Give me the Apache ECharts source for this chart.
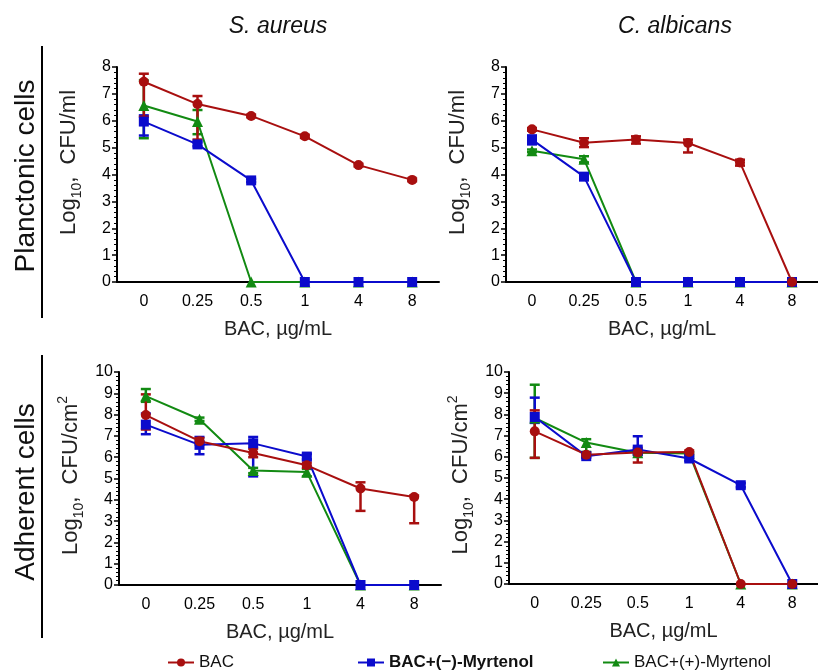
<!DOCTYPE html>
<html><head><meta charset="utf-8">
<script src="https://cdn.jsdelivr.net/npm/echarts@6/dist/echarts.min.js"></script>
<style>html,body{margin:0;padding:0;background:#fff}#c{width:818px;height:671px}</style>
</head><body><div id="c"></div>
<script>
const categories = ['0', '0.25', '0.5', '1', '4', '8'];
const seriesNames = ['BAC', 'BAC+(−)-Myrtenol', 'BAC+(+)-Myrtenol'];
const panelTitles = ['S. aureus', 'C. albicans'];
const rowTitles = ['Planctonic cells', 'Adherent cells'];
const xAxisName = 'BAC, µg/mL';

// Planktonic, S. aureus
const saP_BAC = [7.45, 6.62, 6.18, 5.42, 4.35, 3.80];
const saP_BAC_lo = [6.15, 5.30, 6.13, 5.36, 4.30, 3.75];
const saP_BAC_hi = [7.75, 6.92, 6.23, 5.48, 4.40, 3.85];
const saP_Minus = [5.97, 5.12, 3.78, 0, 0, 0];
const saP_Minus_lo = [5.45, 5.05, 3.72, 0, 0, 0];
const saP_Minus_hi = [6.20, 5.20, 3.84, 0, 0, 0];
const saP_Plus = [6.57, 5.97, 0, 0, 0, 0];
const saP_Plus_lo = [5.35, 5.50, 0, 0, 0, 0];
const saP_Plus_hi = [7.50, 6.40, 0, 0, 0, 0];

// Planktonic, C. albicans
const caP_BAC = [5.68, 5.18, 5.30, 5.17, 4.45, 0];
const caP_BAC_lo = [5.63, 5.02, 5.15, 4.82, 4.33, 0];
const caP_BAC_hi = [5.73, 5.35, 5.42, 5.30, 4.55, 0];
const caP_Minus = [5.30, 3.92, 0, 0, 0, 0];
const caP_Minus_lo = [5.12, 3.84, 0, 0, 0, 0];
const caP_Minus_hi = [5.45, 4.00, 0, 0, 0, 0];
const caP_Plus = [4.88, 4.57, 0, 0, 0, 0];
const caP_Plus_lo = [4.83, 4.45, 0, 0, 0, 0];
const caP_Plus_hi = [4.93, 4.68, 0, 0, 0, 0];

// Adherent, S. aureus
const saA_BAC = [7.98, 6.75, 6.20, 5.62, 4.53, 4.13];
const saA_BAC_lo = [7.30, 6.60, 6.00, 5.50, 3.48, 2.90];
const saA_BAC_hi = [8.95, 6.90, 6.40, 5.75, 4.82, 4.20];
const saA_Minus = [7.53, 6.58, 6.65, 6.03, 0, 0];
const saA_Minus_lo = [7.08, 6.14, 5.10, 5.90, 0, 0];
const saA_Minus_hi = [8.05, 6.95, 6.95, 6.15, 0, 0];
const saA_Plus = [8.87, 7.78, 5.38, 5.30, 0, 0];
const saA_Plus_lo = [8.60, 7.70, 5.25, 5.10, 0, 0];
const saA_Plus_hi = [9.20, 7.86, 5.50, 5.45, 0, 0];

// Adherent, C. albicans
const caA_BAC = [7.20, 6.10, 6.20, 6.23, 0, 0];
const caA_BAC_lo = [5.95, 6.00, 5.73, 6.15, 0, 0];
const caA_BAC_hi = [8.19, 6.20, 6.42, 6.30, 0, 0];
const caA_Minus = [7.88, 6.03, 6.34, 5.92, 4.66, 0];
const caA_Minus_lo = [7.60, 5.95, 6.08, 5.82, 4.56, 0];
const caA_Minus_hi = [8.79, 6.10, 6.97, 6.00, 4.76, 0];
const caA_Plus = [7.83, 6.67, 6.19, 6.15, 0, 0];
const caA_Plus_lo = [5.95, 6.23, 6.10, 6.08, 0, 0];
const caA_Plus_hi = [9.40, 6.83, 6.30, 6.22, 0, 0];

const yMaxTop = 8, yMaxBottom = 10, yInterval = 1;

const colors = ['#A80F0F', '#0B0BCC', '#128A12'];
const symbols = ['circle', 'rect', 'triangle'];
const symbolSizes = [10, 10, 11];
const FONT = '"Liberation Sans", Arial, sans-serif';

const panels = [
  {grid: {left: 117, top: 67, width: 322, height: 215}, max: yMaxTop, sup: false, namePad: 24,
   means: [saP_BAC, saP_Minus, saP_Plus], lo: [saP_BAC_lo, saP_Minus_lo, saP_Plus_lo], hi: [saP_BAC_hi, saP_Minus_hi, saP_Plus_hi]},
  {grid: {left: 506, top: 67, width: 323, height: 215}, max: yMaxTop, sup: false, namePad: 24,
   means: [caP_BAC, caP_Minus, caP_Plus], lo: [caP_BAC_lo, caP_Minus_lo, caP_Plus_lo], hi: [caP_BAC_hi, caP_Minus_hi, caP_Plus_hi]},
  {grid: {left: 119, top: 372, width: 322, height: 213}, max: yMaxBottom, sup: true, namePad: 6,
   means: [saA_BAC, saA_Minus, saA_Plus], lo: [saA_BAC_lo, saA_Minus_lo, saA_Plus_lo], hi: [saA_BAC_hi, saA_Minus_hi, saA_Plus_hi]},
  {grid: {left: 509, top: 372, width: 322, height: 212}, max: yMaxBottom, sup: true, namePad: 6,
   means: [caA_BAC, caA_Minus, caA_Plus], lo: [caA_BAC_lo, caA_Minus_lo, caA_Plus_lo], hi: [caA_BAC_hi, caA_Minus_hi, caA_Plus_hi]}
];

const grids = [], xAxes = [], yAxes = [], series = [];
panels.forEach((p, i) => {
  grids.push(Object.assign({containLabel: false}, p.grid));
  xAxes.push({
    type: 'category', gridIndex: i, data: categories, boundaryGap: true,
    axisLine: {lineStyle: {color: '#000', width: 2}},
    axisTick: {show: false},
    axisLabel: {color: '#000', fontSize: 16, margin: 12, fontFamily: FONT},
    name: xAxisName, nameLocation: 'middle', nameGap: 37,
    nameTextStyle: {color: '#222', fontSize: 20, fontFamily: FONT}
  });
  const nm = p.sup ? '{a|Log}{s|10}{a|,  CFU/cm}{p|2}' : '{a|Log}{s|10}{a|,  CFU/ml}';
  yAxes.push({
    type: 'value', gridIndex: i, min: 0, max: p.max, interval: yInterval,
    axisLine: {show: true, lineStyle: {color: '#000', width: 2}},
    axisTick: {show: true, length: 5, lineStyle: {color: '#000', width: 1.5}},
    minorTick: {show: true, splitNumber: 5, length: 3, lineStyle: {color: '#000', width: 1}},
    splitLine: {show: false},
    axisLabel: {color: '#000', fontSize: 16, margin: 6, fontFamily: FONT},
    name: nm, nameLocation: 'middle', nameGap: 33, nameRotate: 90,
    nameTextStyle: {color: '#222', fontFamily: FONT, padding: [0, 0, 0, p.namePad], rich: {
      a: {fontSize: 22, fontFamily: FONT, color: '#222', lineHeight: 30, verticalAlign: 'middle'},
      s: {fontSize: 14, fontFamily: FONT, color: '#222', verticalAlign: 'bottom', lineHeight: 14},
      p: {fontSize: 14, fontFamily: FONT, color: '#222', verticalAlign: 'top', lineHeight: 14}
    }}
  });
  [2, 1, 0].forEach(k => {
    series.push({
      type: 'custom', name: seriesNames[k] + ' SD', xAxisIndex: i, yAxisIndex: i,
      data: categories.map((c, j) => [j, p.lo[k][j], p.hi[k][j]]),
      encode: {x: 0, y: [1, 2]}, z: 3, silent: true,
      renderItem: function (params, api) {
        const lo = api.value(1), hi = api.value(2);
        if (hi - lo < 0.04) return null;
        const a = api.coord([api.value(0), hi]);
        const b = api.coord([api.value(0), lo]);
        const w = 5;
        const st = {stroke: colors[k], lineWidth: 2.5};
        return {type: 'group', children: [
          {type: 'line', shape: {x1: a[0], y1: a[1], x2: b[0], y2: b[1]}, style: st},
          {type: 'line', shape: {x1: a[0] - w, y1: a[1], x2: a[0] + w, y2: a[1]}, style: st},
          {type: 'line', shape: {x1: b[0] - w, y1: b[1], x2: b[0] + w, y2: b[1]}, style: st}
        ]};
      }
    });
  });
  [2, 1, 0].forEach(k => {
    series.push({
      type: 'line', name: seriesNames[k], xAxisIndex: i, yAxisIndex: i,
      data: p.means[k], symbol: symbols[k], symbolSize: symbolSizes[k],
      showAllSymbol: true, z: 4,
      itemStyle: {color: colors[k]},
      lineStyle: {color: colors[k], width: 2},
      emphasis: {disabled: true}, animation: false
    });
  });
});

const legendBase = {
  orient: 'horizontal', top: 649, itemWidth: 26, itemHeight: 10, itemGap: 10,
  selectedMode: false,
  textStyle: {color: '#111', fontSize: 17, fontFamily: FONT}
};

const option = {
  animation: false,
  textStyle: {fontFamily: FONT},
  grid: grids, xAxis: xAxes, yAxis: yAxes, series: series,
  legend: [
    Object.assign({}, legendBase, {left: 162, data: [seriesNames[0]]}),
    Object.assign({}, legendBase, {left: 352, data: [seriesNames[1]], textStyle: {color: '#111', fontSize: 17, fontWeight: 'bold', fontFamily: FONT}}),
    Object.assign({}, legendBase, {left: 597, data: [seriesNames[2]]})
  ],
  graphic: [
    {type: 'text', x: 278, y: 27, style: {text: panelTitles[0], font: 'italic 23px ' + FONT, fill: '#111', textAlign: 'center', textVerticalAlign: 'middle'}},
    {type: 'text', x: 675, y: 27, style: {text: panelTitles[1], font: 'italic 23px ' + FONT, fill: '#111', textAlign: 'center', textVerticalAlign: 'middle'}},
    {type: 'text', x: 26, y: 176, rotation: Math.PI / 2, style: {text: rowTitles[0], font: '28px ' + FONT, fill: '#111', textAlign: 'center', textVerticalAlign: 'middle'}},
    {type: 'text', x: 26, y: 492, rotation: Math.PI / 2, style: {text: rowTitles[1], font: '28px ' + FONT, fill: '#111', textAlign: 'center', textVerticalAlign: 'middle'}},
    {type: 'line', shape: {x1: 42, y1: 46, x2: 42, y2: 318}, style: {stroke: '#000', lineWidth: 2}},
    {type: 'line', shape: {x1: 42, y1: 355, x2: 42, y2: 638}, style: {stroke: '#000', lineWidth: 2}}
  ]
};

const chart = echarts.init(document.getElementById('c'), null, {renderer: 'canvas'});
chart.setOption(option);
</script></body></html>
